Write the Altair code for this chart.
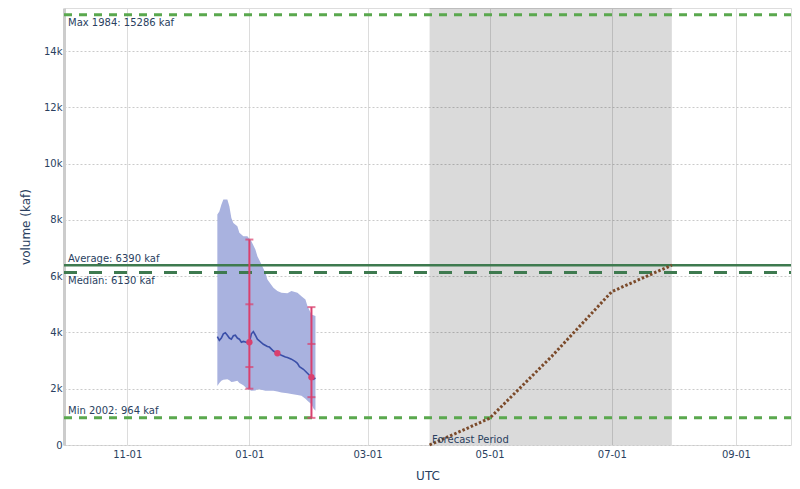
import altair as alt
import pandas as pd

# ---- data ----
obs_dates = ["2024-12-16", "2024-12-17", "2024-12-18", "2024-12-19", "2024-12-20", "2024-12-21",
             "2024-12-22", "2024-12-23", "2024-12-24", "2024-12-25", "2024-12-26", "2024-12-27",
             "2024-12-28", "2024-12-29", "2024-12-30", "2024-12-31", "2025-01-01", "2025-01-02",
             "2025-01-03", "2025-01-04", "2025-01-05", "2025-01-06", "2025-01-08", "2025-01-10",
             "2025-01-11", "2025-01-13", "2025-01-15", "2025-01-17", "2025-01-19", "2025-01-20",
             "2025-01-22", "2025-01-24", "2025-01-25", "2025-01-26", "2025-01-28", "2025-01-30",
             "2025-01-31", "2025-02-01", "2025-02-02", "2025-02-03"]
obs_values = [3850, 3720, 3800, 3950, 3990, 3900,
              3800, 3760, 3880, 3900, 3800, 3760,
              3650, 3680, 3660, 3640, 3650, 3950,
              4030, 3900, 3760, 3700, 3580, 3500,
              3480, 3340, 3260, 3190, 3130, 3110,
              3050, 2960, 2900, 2780, 2690, 2550,
              2480, 2410, 2340, 2380]

band_dates = ["2024-12-16", "2024-12-17", "2024-12-18", "2024-12-19", "2024-12-21", "2024-12-22",
              "2024-12-23", "2024-12-24", "2024-12-26", "2024-12-27", "2024-12-29", "2024-12-31",
              "2025-01-02", "2025-01-04", "2025-01-05", "2025-01-07", "2025-01-09", "2025-01-10",
              "2025-01-13", "2025-01-15", "2025-01-17", "2025-01-20", "2025-01-22", "2025-01-25",
              "2025-01-27", "2025-01-29", "2025-01-30", "2025-02-01", "2025-02-02", "2025-02-03"]
band_upper = [8190, 8300, 8540, 8720, 8720, 8480,
              8070, 7890, 7770, 7540, 7420, 7420,
              7240, 6950, 6710, 6420, 6120, 5880,
              5590, 5470, 5410, 5390, 5470, 5410,
              5290, 5170, 4940, 4640, 4610, 4580]
band_lower = [2100, 2200, 2280, 2320, 2340, 2300,
              2240, 2250, 2280, 2200, 2120, 1990,
              1925, 1940, 1985, 1960, 1925, 1925,
              1925, 1900, 1865, 1840, 1810, 1780,
              1750, 1640, 1570, 1450, 1300, 1215]

eb_dates = ["2025-01-01", "2025-02-01"]
eb_low = [2000, 964]
eb_q1 = [2770, 1700]
eb_q3 = [5000, 3590]
eb_high = [7300, 4900]

pt_dates = ["2025-01-01", "2025-01-15", "2025-02-01"]
pt_values = [3650, 3260, 2410]

fc_dates = ["2025-04-01", "2025-05-01", "2025-06-01", "2025-07-01", "2025-07-31"]
fc_values = [0, 950, 3150, 5450, 6390]

ref_labels = ["Max 1984: 15286 kaf", "Average: 6390 kaf", "Median: 6130 kaf", "Min 2002: 964 kaf"]
ref_values = [15286, 6390, 6130, 964]

period_start = ["2025-04-01"]
period_end = ["2025-07-31"]
period_label = ["Forecast Period"]

tick_months = [(2024, 11), (2025, 1), (2025, 3), (2025, 5), (2025, 7), (2025, 9)]
y_ticks = [0, 2000, 4000, 6000, 8000, 10000, 12000, 14000]

# ---- styling ----
W, H = 727, 437
TXT = "#2a3f5f"
FONT = "DejaVu Sans"

xscale = alt.Scale(type="utc", nice=False,
                   domain=[alt.DateTime(year=2024, month=9, date=30, hours=10, utc=True),
                           alt.DateTime(year=2025, month=9, date=28, hours=12, utc=True)])
xaxis = alt.Axis(title="UTC", labelExpr="utcFormat(datum.value, '%m-%d')",
                 values=[alt.DateTime(year=y, month=m, date=1, utc=True) for y, m in tick_months],
                 grid=True, gridColor="#dcdcdc", gridWidth=1,
                 ticks=False, tickSize=0, labelPadding=4, domain=False,
                 labelFont=FONT, labelFontSize=10, labelColor=TXT,
                 titleFont=FONT, titleFontSize=12, titleColor=TXT, titleFontWeight="normal",
                 titleBaseline="alphabetic", titleY=34.5)
yscale = alt.Scale(domain=[0, 15528], nice=False, zero=True)
yaxis = alt.Axis(title="volume (kaf)", values=y_ticks,
                 labelExpr="datum.value == 0 ? '0' : (datum.value / 1000) + 'k'",
                 grid=True, gridColor="#cacaca", gridDash=[2, 2], gridWidth=1,
                 ticks=False, tickSize=0, labelPadding=2,
                 domain=True, domainColor="#cccccc", domainWidth=3,
                 labelFont=FONT, labelFontSize=10, labelColor=TXT,
                 titleFont=FONT, titleFontSize=12, titleColor=TXT, titleFontWeight="normal",
                 titleBaseline="alphabetic", titleX=-35)


def X(field):
    return alt.X(field, type="temporal", scale=xscale, axis=xaxis)


def Y(field):
    return alt.Y(field, type="quantitative", scale=yscale, axis=yaxis)


shade_df = pd.DataFrame({"start": period_start, "end": period_end, "label": period_label})
band_df = pd.DataFrame({"date": band_dates, "upper": band_upper, "lower": band_lower})
obs_df = pd.DataFrame({"date": obs_dates, "value": obs_values})
eb_df = pd.DataFrame({"date": eb_dates, "low": eb_low, "q1": eb_q1, "q3": eb_q3, "high": eb_high})
pt_df = pd.DataFrame({"date": pt_dates, "value": pt_values})
fc_df = pd.DataFrame({"date": fc_dates, "value": fc_values})

shade = alt.Chart(shade_df).mark_rect(color="black", opacity=0.145).encode(
    x=X("start"), x2="end", y=alt.value(0), y2=alt.value(H))

shade_text = alt.Chart(shade_df).mark_text(
    align="left", baseline="alphabetic", dx=2.5, dy=-2.5, font=FONT, fontSize=10, color=TXT
).encode(x=X("start"), y=alt.value(H), text="label")

band = alt.Chart(band_df).mark_area(color="#a9b2df", opacity=1, interpolate="linear").encode(
    x=X("date"), y=Y("upper"), y2="lower")

obs_line = alt.Chart(obs_df).mark_line(color="#3a4fa8", strokeWidth=1.6).encode(
    x=X("date"), y=Y("value"))

ref_styles = [
    dict(color="#5aa84e", strokeDash=[8, 7], strokeWidth=3),
    dict(color="#3e7a4f", strokeWidth=2.5),
    dict(color="#3e7a4f", strokeDash=[13, 12], strokeWidth=3),
    dict(color="#5aa84e", strokeDash=[8, 7], strokeWidth=3),
]
ref_dy = [11.3, -3.4, 11.7, -4]

ref_layers = []
for lab, val, st, dy in zip(ref_labels, ref_values, ref_styles, ref_dy):
    d = pd.DataFrame({"value": [val], "label": [lab]})
    ref_layers.append(alt.Chart(d).mark_rule(**st).encode(
        y=Y("value"), x=alt.value(0), x2=alt.value(W)))
    ref_layers.append(alt.Chart(d).mark_text(
        align="left", baseline="alphabetic", dy=dy, font=FONT, fontSize=10, color=TXT
    ).encode(y=Y("value"), x=alt.value(4), text="label"))

fc_line = alt.Chart(fc_df).mark_line(color="#7b4a2a", strokeDash=[2.5, 2], strokeWidth=3).encode(
    x=X("date"), y=Y("value"))

PINK = "#d9406e"
eb_rule = alt.Chart(eb_df).mark_rule(color=PINK, strokeWidth=2).encode(
    x=X("date"), y=Y("low"), y2="high")
caps = [alt.Chart(eb_df).mark_tick(color=PINK, orient="horizontal", size=8, thickness=2).encode(
    x=X("date"), y=Y(f)) for f in ["low", "q1", "q3", "high"]]
pts = alt.Chart(pt_df).mark_circle(color=PINK, size=40, opacity=1).encode(
    x=X("date"), y=Y("value"))

chart = alt.layer(
    shade, band, obs_line, *ref_layers, fc_line, eb_rule, *caps, pts, shade_text
).properties(
    width=W, height=H,
    autosize=alt.AutoSizeParams(type="none"),
    padding={"left": 56, "top": 0, "right": 1, "bottom": 40},
).configure_view(
    stroke="#cccccc", strokeWidth=2
).configure(background="white")

chart.save("out.html", embed_options={"renderer": "svg", "actions": False})
